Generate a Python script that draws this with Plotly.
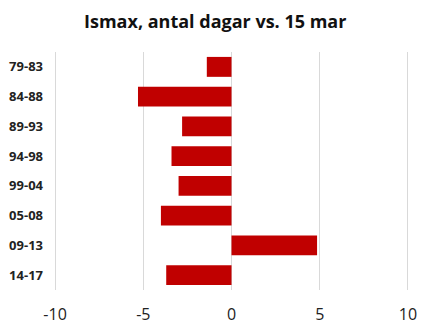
import plotly.graph_objects as go

categories = ["79-83", "84-88", "89-93", "94-98", "99-04", "05-08", "09-13", "14-17"]
values = [-1.4, -5.3, -2.8, -3.4, -3.0, -4.0, 4.85, -3.7]
x_ticks = [-10, -5, 0, 5, 10]

fig = go.Figure(go.Bar(
    y=categories, x=values, orientation="h",
    marker=dict(color="#C00000", line=dict(width=0)),
))
fig.update_layout(
    width=433, height=331,
    margin=dict(l=54, r=24, t=52, b=41),
    paper_bgcolor="white", plot_bgcolor="white",
    bargap=0.33,
    showlegend=False,
    title=dict(text="<b>Ismax, antal dagar vs. 15 mar</b>", x=0.497, xanchor="center",
               y=0.935, yanchor="middle",
               font=dict(family="Open Sans, Liberation Sans", size=18, color="#111")),
    font=dict(family="Open Sans, Liberation Sans"),
)
fig.update_xaxes(
    range=[-10.06, 10.06], tickvals=x_ticks, ticktext=[str(v) for v in x_ticks],
    showgrid=True, gridcolor="#D9D9D9", gridwidth=1,
    zeroline=True, zerolinecolor="#D9D9D9", zerolinewidth=1,
    tickfont=dict(size=16, color="#222"),
    ticks="", ticklabelstandoff=13, automargin=False,
)
fig.update_yaxes(
    type="category",
    categoryorder="array", categoryarray=categories[::-1],
    showgrid=False, zeroline=False, showline=False,
    tickfont=dict(size=13, color="#222", family="Open Sans, Liberation Sans", weight="bold"),
    ticks="", ticklabelstandoff=10, automargin=False,
)
fig.write_html("out.html")
